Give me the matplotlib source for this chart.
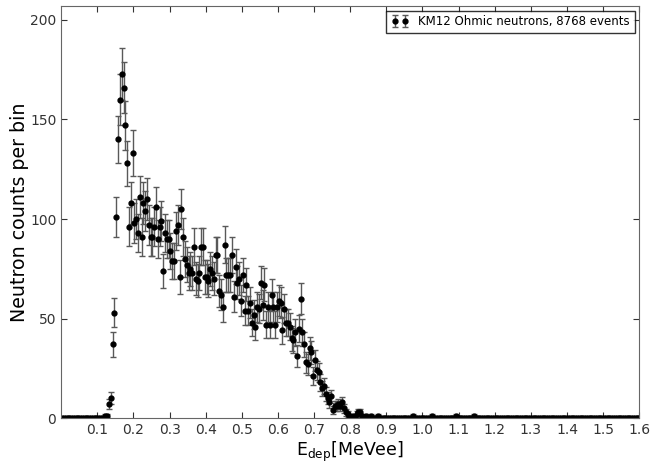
import matplotlib
matplotlib.use("Agg")
import matplotlib.pyplot as plt
import numpy as np

# Histogram binning (bin width 0.005 MeVee, 0 - 1.6)
bin_width = 0.005
n_bins = 320
first_bin = 24  # first bin with counts, centred at 0.1225

# counts per bin, starting at first_bin
main_counts = [
    1, 1, 7, 10, 37, 53, 101, 140, 160, 173,
    166, 147, 128, 96, 108, 133, 98, 100, 93, 111,
    91, 108, 104, 110, 97, 91, 91, 96, 106, 90,
    96, 99, 74, 93, 90, 90, 84, 79, 79, 94,
    97, 71, 105, 91, 80, 77, 73, 75, 73, 86,
    70, 69, 73, 86, 86, 71, 71, 69, 75, 73,
    70, 82, 82, 64, 62, 56, 87, 72, 72, 72,
    82, 61, 76, 68, 70, 59, 72, 54, 67, 54,
    58, 48, 52, 46, 56, 55, 68, 57, 67, 47,
    56, 47, 62, 56, 47, 56, 59, 58, 44, 55,
    48, 48, 46, 40, 39, 43, 31, 45, 60, 43,
    37, 28, 27, 35, 33, 21, 29, 24, 23, 18,
    15, 16, 12, 10, 8, 11, 4, 6, 6, 7,
    6, 8, 5, 3, 2, 1, 0, 1, 0, 2,
    3, 3, 1, 0, 1, 0, 0, 1, 0, 0,
    0, 1,
]

# isolated counts in the high energy tail
tail_energy = [0.9725, 1.0275, 1.0925, 1.1425]
tail_counts = [1, 1, 1, 1]

energy = np.arange(n_bins) * bin_width + bin_width / 2
counts = np.zeros(n_bins)
counts[first_bin:first_bin + len(main_counts)] = main_counts
for e, c in zip(tail_energy, tail_counts):
    counts[int(e / bin_width)] = c
errors = np.sqrt(counts)

plt.rcParams['xtick.direction'] = 'in'
plt.rcParams['ytick.direction'] = 'in'
plt.rcParams['xtick.top'] = True
plt.rcParams['ytick.right'] = True
plt.rcParams['xtick.major.size'] = 4
plt.rcParams['ytick.major.size'] = 4

fig = plt.figure(figsize=(6.51, 4.63), dpi=100)
ax = fig.add_axes([0.094, 0.097, 0.888, 0.890])

ax.errorbar(energy, counts, yerr=errors, fmt='o', color='black',
            ecolor='0.35', elinewidth=1, capsize=2, markersize=3.5,
            label='KM12 Ohmic neutrons, 8768 events')

ax.set_xlim(0, 1.6)
ax.set_ylim(0, 207)
ax.set_xticks(np.arange(0.1, 1.61, 0.1))
ax.set_yticks([0, 50, 100, 150, 200])
ax.tick_params(labelsize=10, colors='0.2')
for s in ax.spines.values():
    s.set_color('0.4')

ax.set_xlabel(r'E$_{\mathrm{dep}}$[MeVee]', fontsize=12.5, labelpad=2)
ax.set_ylabel('Neutron counts per bin', fontsize=13.7, labelpad=1)

ax.legend(loc='upper right', numpoints=2, fontsize=8.5, fancybox=False,
          edgecolor='black', borderaxespad=0.4, handlelength=1.5)

plt.savefig('out.png', dpi=100)
